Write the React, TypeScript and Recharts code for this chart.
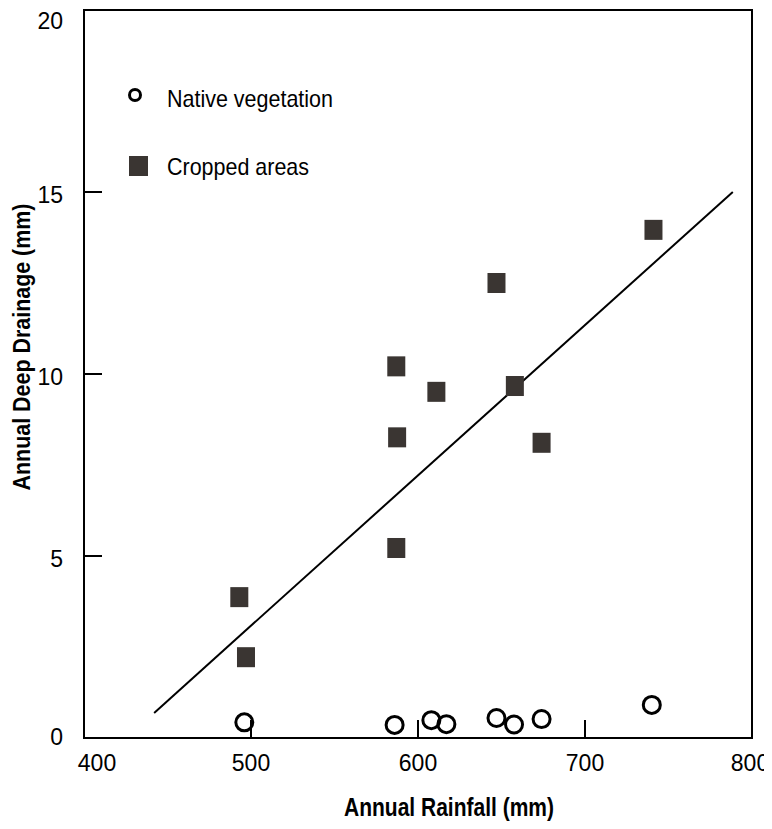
import React from 'react';
import { ScatterChart, Scatter, XAxis, YAxis, ReferenceLine, ReferenceArea } from 'recharts';

const nativeRainfall = [496, 586, 608, 617, 647, 657.5, 674, 740];
const nativeDrainage = [0.43, 0.36, 0.49, 0.38, 0.55, 0.37, 0.52, 0.91];

const croppedRainfall = [493, 497, 587, 587.5, 587, 611, 647, 658, 674, 741];
const croppedDrainage = [3.87, 2.22, 5.22, 8.26, 10.21, 9.51, 12.5, 9.67, 8.11, 13.96];

const trendRainfall = [442, 788.5];
const trendDrainage = [0.69, 15.0];

const xTicks = [400, 500, 600, 700, 800];
const yTicks = [0, 5, 10, 15, 20];

const seriesNames = ['Native vegetation', 'Cropped areas'];
const xTitle = 'Annual Rainfall (mm)';
const yTitle = 'Annual Deep Drainage (mm)';

const nativeData = nativeRainfall.map((x, i) => ({ x, y: nativeDrainage[i] }));
const croppedData = croppedRainfall.map((x, i) => ({ x, y: croppedDrainage[i] }));

const FONT = '"Liberation Sans", Arial, sans-serif';
const SQUARE = '#3a3532';
const DIGIT_W = 12.8;

const XTick = (props: any) => {
  const { x, y, payload } = props;
  const v = payload.value;
  const inner = v !== 400 && v !== 800;
  const dx = v === 400 ? 13 : v === 800 ? -2 : 0;
  const s = String(v);
  return (
    <g>
      {inner && <line x1={x} x2={x} y1={y} y2={y - 18} stroke="#000" strokeWidth={2} />}
      <text
        x={x + dx}
        y={y + 33}
        textAnchor="middle"
        fontFamily={FONT}
        fontSize={24}
        fill="#000"
        textLength={s.length * DIGIT_W}
        lengthAdjust="spacingAndGlyphs"
      >
        {s}
      </text>
    </g>
  );
};

const YTick = (props: any) => {
  const { x, y, payload } = props;
  const v = payload.value;
  const inner = v !== 0 && v !== 20;
  const dy = v === 20 ? 19 : v === 0 ? 7 : 11;
  const s = String(v);
  return (
    <g>
      {inner && <line x1={x} x2={x + 18} y1={y} y2={y} stroke="#000" strokeWidth={2} />}
      <text
        x={x - 21}
        y={y + dy}
        textAnchor="end"
        fontFamily={FONT}
        fontSize={24}
        fill="#000"
        textLength={s.length * DIGIT_W}
        lengthAdjust="spacingAndGlyphs"
      >
        {s}
      </text>
    </g>
  );
};

const CircleShape = (props: any) => {
  const { cx, cy } = props;
  return <circle cx={cx} cy={cy} r={8.5} fill="none" stroke="#000" strokeWidth={3} />;
};

const SquareShape = (props: any) => {
  const { cx, cy } = props;
  return <rect x={cx - 9} y={cy - 10} width={18} height={20} fill={SQUARE} />;
};

export default function App() {
  return (
    <div style={{ width: 764, height: 821, position: 'relative' }}>
      <ScatterChart width={764} height={821} margin={{ top: 2, right: 20, left: 0, bottom: 0 }}>
        <XAxis
          type="number"
          dataKey="x"
          domain={[400, 800]}
          ticks={xTicks}
          axisLine={{ stroke: '#000', strokeWidth: 2 }}
          tickLine={false}
          tickSize={0}
          tickMargin={0}
          tick={<XTick />}
          height={91}
          interval={0}
        />
        <YAxis
          type="number"
          dataKey="y"
          domain={[0, 20]}
          ticks={yTicks}
          axisLine={{ stroke: '#000', strokeWidth: 2 }}
          tickLine={false}
          tickSize={0}
          tickMargin={0}
          tick={<YTick />}
          width={76}
          interval={0}
        />
        <ReferenceArea x1={400} x2={800} y1={0} y2={20} fill="none" stroke="#000" strokeWidth={2} />
        <ReferenceLine
          segment={[
            { x: trendRainfall[0], y: trendDrainage[0] },
            { x: trendRainfall[1], y: trendDrainage[1] },
          ]}
          stroke="#000"
          strokeWidth={2}
        />
        <Scatter name={seriesNames[0]} data={nativeData} shape={<CircleShape />} isAnimationActive={false} />
        <Scatter name={seriesNames[1]} data={croppedData} shape={<SquareShape />} isAnimationActive={false} />
        <g>
          <circle cx={127} cy={87} r={5.5} fill="none" stroke="#000" strokeWidth={3} />
          <text x={159} y={99} fontFamily={FONT} fontSize={24} fill="#000" textLength={166} lengthAdjust="spacingAndGlyphs">
            {seriesNames[0]}
          </text>
          <rect x={121} y={148} width={19} height={20} fill={SQUARE} />
          <text x={159} y={167} fontFamily={FONT} fontSize={24} fill="#000" textLength={142} lengthAdjust="spacingAndGlyphs">
            {seriesNames[1]}
          </text>
        </g>
        <text
          x={441}
          y={808}
          textAnchor="middle"
          fontFamily={FONT}
          fontWeight="bold"
          fontSize={25}
          fill="#000"
          textLength={210}
          lengthAdjust="spacingAndGlyphs"
        >
          {xTitle}
        </text>
        <text
          x={22}
          y={339}
          transform="rotate(-90, 22, 339)"
          textAnchor="middle"
          fontFamily={FONT}
          fontWeight="bold"
          fontSize={24}
          fill="#000"
          textLength={287}
          lengthAdjust="spacingAndGlyphs"
        >
          {yTitle}
        </text>
      </ScatterChart>
    </div>
  );
}
